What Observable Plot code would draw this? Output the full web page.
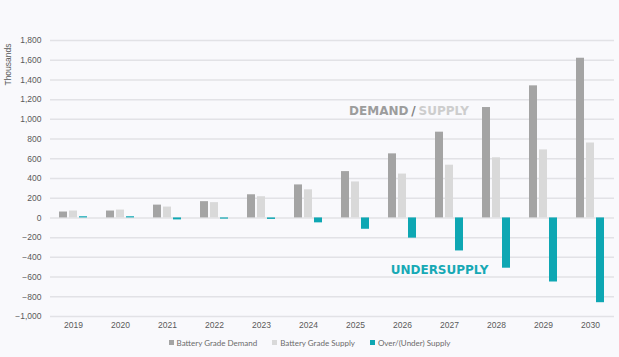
<!DOCTYPE html>
<html>
<head>
<meta charset="utf-8">
<script src="https://cdn.jsdelivr.net/npm/d3@7"></script>
<script src="https://cdn.jsdelivr.net/npm/@observablehq/plot@0.6"></script>
<style>
  html, body { margin: 0; padding: 0; background: #f9f9fc; width: 619px; height: 357px; overflow: hidden; }
  #chart svg { display: block; }
  .legend { display: flex; justify-content: center; align-items: center; height: 16px; font-family: Lato, "Liberation Sans", sans-serif; font-size: 8px; color: #6b6b6b; gap: 15px; }
  .legend span.sw { display: inline-block; width: 5px; height: 5px; margin-right: 3px; vertical-align: middle; position: relative; top: -1px; }
</style>
</head>
<body>
<div id="chart"></div>
<div class="legend" id="legend"></div>
<script>
const years = ["2019","2020","2021","2022","2023","2024","2025","2026","2027","2028","2029","2030"];
const demand = [60, 70, 130, 165, 235, 335, 470, 650, 870, 1120, 1340, 1620];
const supply = [70, 80, 110, 155, 215, 285, 365, 445, 535, 610, 690, 760];
const balance = [12, 12, -20, -12, -15, -50, -115, -205, -335, -510, -650, -860];
const yTicks = [-1000, -800, -600, -400, -200, 0, 200, 400, 600, 800, 1000, 1200, 1400, 1600, 1800];
const seriesNames = ["Battery Grade Demand", "Battery Grade Supply", "Over/(Under) Supply"];
const colors = ["#a4a4a4", "#d9d9d9", "#0ea7b3"];

const data = years.map((year, i) => ({year, demand: demand[i], supply: supply[i], balance: balance[i]}));
const annoFont = "'DejaVu Sans', sans-serif";

const chart = Plot.plot({
  width: 619,
  height: 335,
  marginLeft: 50,
  marginRight: 5,
  marginTop: 40,
  marginBottom: 19,
  style: {background: "transparent", fontFamily: "'Liberation Sans', Arial, sans-serif", fontSize: "8.5px", color: "#5a5a5a"},
  x: {domain: years, paddingInner: 0.4, paddingOuter: 0.2, label: null, tickSize: 0, tickPadding: 5},
  y: {domain: [-1000, 1800], ticks: yTicks, tickFormat: d3.format(","), tickSize: 0, tickPadding: 9, label: null},
  marks: [
    Plot.gridY(yTicks, {stroke: "#e2e2e6", strokeOpacity: 1, strokeWidth: 1.5}),
    Plot.barY(data, {x: "year", y: "demand", fill: colors[0], insetRight: 20}),
    Plot.barY(data, {x: "year", y: "supply", fill: colors[1], insetLeft: 10, insetRight: 10}),
    Plot.barY(data, {x: "year", y: "balance", fill: colors[2], insetLeft: 20}),
    Plot.text(["Thousands"], {frameAnchor: "top-left", rotate: -90, textAnchor: "end", dx: -46, dy: 3, fill: "#5a5a5a", fontSize: 8.5}),
    Plot.text([{year: "2026", value: 1080}], {x: "year", y: "value", text: () => "DEMAND", textAnchor: "end", dx: 6, fill: "#9c9c9c", fontSize: 12, fontWeight: "bold", fontFamily: annoFont}),
    Plot.text([{year: "2026", value: 1080}], {x: "year", y: "value", text: () => "/", textAnchor: "middle", dx: 11, fill: "#808080", fontSize: 12, fontWeight: "bold", fontFamily: annoFont}),
    Plot.text([{year: "2026", value: 1080}], {x: "year", y: "value", text: () => "SUPPLY", textAnchor: "start", dx: 16, fill: "#cdcdcd", fontSize: 12, fontWeight: "bold", fontFamily: annoFont}),
    Plot.text([{year: "2027", value: -526}], {x: "year", y: "value", text: () => "UNDERSUPPLY", textAnchor: "middle", dx: -10, fill: "#17a9b5", fontSize: 12, fontWeight: "bold", fontFamily: annoFont})
  ]
});
document.getElementById("chart").appendChild(chart);

const legend = document.getElementById("legend");
seriesNames.forEach((name, i) => {
  const item = document.createElement("div");
  const sw = document.createElement("span");
  sw.className = "sw";
  sw.style.background = colors[i];
  item.appendChild(sw);
  item.appendChild(document.createTextNode(name));
  legend.appendChild(item);
});
</script>
</body>
</html>
